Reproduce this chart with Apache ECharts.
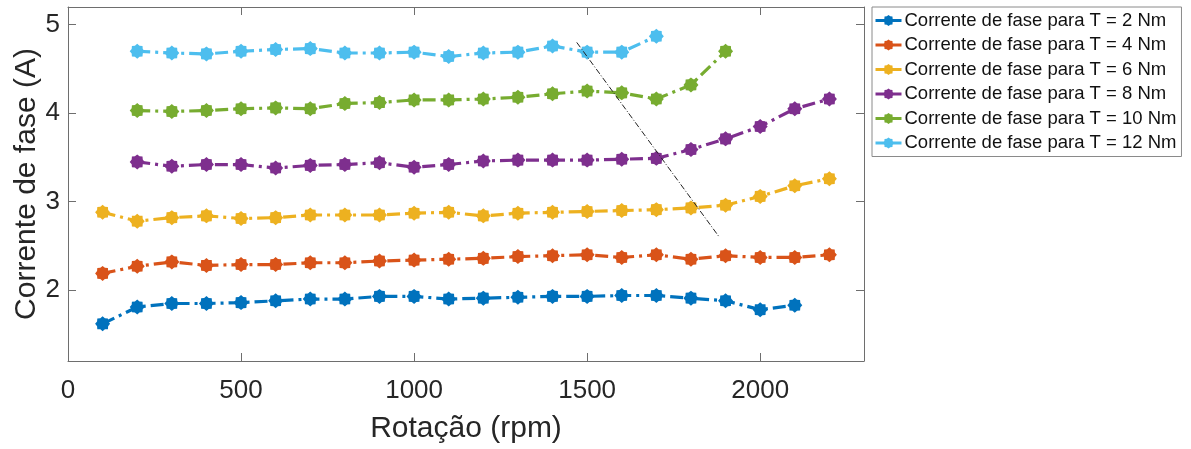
<!DOCTYPE html>
<html>
<head>
<meta charset="utf-8">
<script src="https://cdn.jsdelivr.net/npm/echarts@6/dist/echarts.min.js"></script>
<style>
html,body{margin:0;padding:0;background:#fff;}
#chart{width:1191px;height:449px;}
</style>
</head>
<body>
<div id="chart"></div>
<script>
// ---- data ----
const rpmT2  = [100,200,300,400,500,600,700,800,900,1000,1100,1200,1300,1400,1500,1600,1700,1800,1900,2000,2100];
const curT2  = [1.62,1.81,1.85,1.85,1.86,1.88,1.90,1.90,1.93,1.93,1.90,1.91,1.92,1.93,1.93,1.94,1.94,1.91,1.88,1.78,1.83];
const rpmT4  = [100,200,300,400,500,600,700,800,900,1000,1100,1200,1300,1400,1500,1600,1700,1800,1900,2000,2100,2200];
const curT4  = [2.19,2.27,2.32,2.28,2.29,2.29,2.31,2.31,2.33,2.34,2.35,2.36,2.38,2.39,2.40,2.37,2.40,2.35,2.39,2.37,2.37,2.40];
const rpmT6  = [100,200,300,400,500,600,700,800,900,1000,1100,1200,1300,1400,1500,1600,1700,1800,1900,2000,2100,2200];
const curT6  = [2.88,2.78,2.82,2.84,2.81,2.82,2.85,2.85,2.85,2.87,2.88,2.84,2.87,2.88,2.89,2.90,2.91,2.93,2.96,3.06,3.18,3.26];
const rpmT8  = [200,300,400,500,600,700,800,900,1000,1100,1200,1300,1400,1500,1600,1700,1800,1900,2000,2100,2200];
const curT8  = [3.45,3.40,3.42,3.42,3.38,3.41,3.42,3.44,3.39,3.42,3.46,3.47,3.47,3.47,3.48,3.49,3.59,3.71,3.85,4.05,4.16];
const rpmT10 = [200,300,400,500,600,700,800,900,1000,1100,1200,1300,1400,1500,1600,1700,1800,1900];
const curT10 = [4.03,4.02,4.03,4.05,4.06,4.05,4.11,4.12,4.15,4.15,4.16,4.18,4.22,4.25,4.23,4.16,4.32,4.70];
const rpmT12 = [200,300,400,500,600,700,800,900,1000,1100,1200,1300,1400,1500,1600,1700];
const curT12 = [4.70,4.68,4.67,4.70,4.72,4.73,4.68,4.68,4.69,4.64,4.68,4.69,4.76,4.69,4.69,4.87];
const guideX = [1470,1880];
const guideY = [4.80,2.61];
const seriesNames = [
  'Corrente de fase para T = 2 Nm',
  'Corrente de fase para T = 4 Nm',
  'Corrente de fase para T = 6 Nm',
  'Corrente de fase para T = 8 Nm',
  'Corrente de fase para T = 10 Nm',
  'Corrente de fase para T = 12 Nm'
];
const xTicks = [0,500,1000,1500,2000];
const yTicks = [2,3,4,5];
const xLabel = 'Rotação (rpm)';
const yLabel = 'Corrente de fase (A)';

// ---- styling ----
const colors = ['#0072BD','#D95319','#EDB120','#7E2F8E','#77AC30','#4DBEEE'];
const FONT = "'Liberation Sans', Arial, Helvetica, sans-serif";
const AXC = '#6e6e6e';

function gearPath(){
  const n = 16; let s = '';
  for(let k=0;k<n;k++){
    const a = k*Math.PI*2/n;
    const r = (k%2===0)?10:8;
    const x = (10 + r*Math.cos(a)).toFixed(2), y = (10 + r*Math.sin(a)).toFixed(2);
    s += (k===0?'M':'L') + x + ' ' + y + ' ';
  }
  return 'path://' + s + 'Z';
}
const marker = gearPath();

const pairs = [[rpmT2,curT2],[rpmT4,curT4],[rpmT6,curT6],[rpmT8,curT8],[rpmT10,curT10],[rpmT12,curT12]];
const series = pairs.map((p,i)=>({
  name: seriesNames[i],
  type: 'line',
  xAxisIndex: 0, yAxisIndex: 0,
  data: p[0].map((x,j)=>[x,p[1][j]]),
  symbol: marker,
  symbolSize: 15,
  showSymbol: true,
  color: colors[i],
  itemStyle: {color: colors[i]},
  lineStyle: {color: colors[i], width: 3.2, type: [13,5,3,5]},
  animation: false,
  z: 3
}));
series.push({
  name: 'guide',
  type: 'line',
  data: guideX.map((x,j)=>[x,guideY[j]]),
  symbol: 'none',
  lineStyle: {color: '#222', width: 1, type: [6,2,1,2]},
  animation: false,
  silent: true,
  z: 4
});

const plain = v => String(v);

const chart = echarts.init(document.getElementById('chart'), null, {renderer:'canvas'});
chart.setOption({
  animation: false,
  backgroundColor: '#fff',
  grid: {left: 68, top: 7, right: 327, bottom: 88, containLabel: false, outerBoundsMode: 'none'},
  legend: {
    data: seriesNames,
    orient: 'vertical',
    left: 872, top: 7,
    padding: [4, 5, 4, 2],
    itemGap: 5.5,
    itemWidth: 26,
    itemHeight: 14,
    borderColor: '#8a8a8a',
    borderWidth: 1,
    backgroundColor: '#fff',
    lineStyle: {type: 'solid', width: 3},
    textStyle: {fontFamily: FONT, fontSize: 18.5, color: '#111', lineHeight: 18, padding: [0,0,0,-2]}
  },
  xAxis: [
    {type: 'value', min: 0, max: 2300, position: 'bottom',
     axisLine: {show: true, onZero: false, lineStyle: {color: AXC, width: 1}},
     axisTick: {show: true, inside: true, length: 8, customValues: xTicks, lineStyle: {color: AXC}},
     axisLabel: {show: true, customValues: xTicks, formatter: plain, margin: 17, fontFamily: FONT, fontSize: 26, color: '#262626'},
     splitLine: {show: false},
     name: xLabel, nameLocation: 'middle', nameGap: 53, nameMoveOverlap: false,
     nameTextStyle: {fontFamily: FONT, fontSize: 30, color: '#262626'}},
    {type: 'value', min: 0, max: 2300, position: 'top',
     axisLine: {show: true, onZero: false, lineStyle: {color: AXC, width: 1}},
     axisTick: {show: true, inside: true, length: 8, customValues: xTicks, lineStyle: {color: AXC}},
     axisLabel: {show: false},
     splitLine: {show: false}}
  ],
  yAxis: [
    {type: 'value', min: 1.2, max: 5.2, position: 'left',
     axisLine: {show: true, onZero: false, lineStyle: {color: AXC, width: 1}},
     axisTick: {show: true, inside: true, length: 8, customValues: yTicks, lineStyle: {color: AXC}},
     axisLabel: {show: true, customValues: yTicks, formatter: plain, margin: 8, fontFamily: FONT, fontSize: 26, color: '#262626'},
     splitLine: {show: false},
     name: yLabel, nameLocation: 'middle', nameGap: 26, nameMoveOverlap: false,
     nameTextStyle: {fontFamily: FONT, fontSize: 30, color: '#262626'}},
    {type: 'value', min: 1.2, max: 5.2, position: 'right',
     axisLine: {show: true, onZero: false, lineStyle: {color: AXC, width: 1}},
     axisTick: {show: true, inside: true, length: 8, customValues: yTicks, lineStyle: {color: AXC}},
     axisLabel: {show: false},
     splitLine: {show: false}}
  ],
  series: series
});
</script>
</body>
</html>
